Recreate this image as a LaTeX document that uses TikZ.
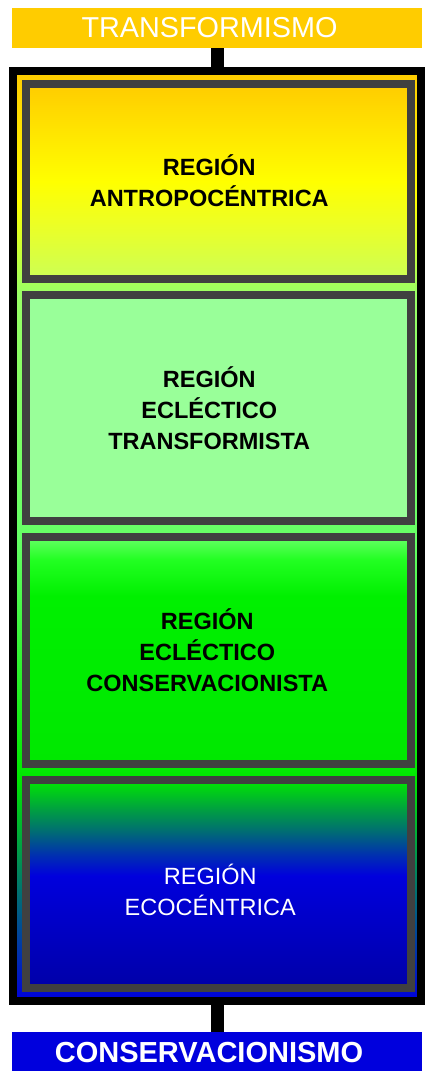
\documentclass[tikz,border=0pt]{standalone}
\usepackage{fontspec}
\setmainfont{Liberation Sans}
\usetikzlibrary{positioning,calc}
\definecolor{gAmbar}{HTML}{FFCC00}
\definecolor{gAmarillo}{HTML}{FFFF00}
\definecolor{gCitron}{HTML}{EEFF22}
\definecolor{gLima}{HTML}{CCFF55}
\definecolor{gPasto}{HTML}{99FF66}
\definecolor{gMenta}{HTML}{99FF99}
\definecolor{gClaro}{HTML}{66FF66}
\definecolor{gVivo}{HTML}{22FF22}
\definecolor{gVerde}{HTML}{00F000}
\definecolor{gHoja}{HTML}{00E800}
\definecolor{gBosque}{HTML}{00A040}
\definecolor{gPetroleo}{HTML}{007070}
\definecolor{gMar}{HTML}{0030B0}
\definecolor{gAzul}{HTML}{0000DD}
\definecolor{gNoche}{HTML}{0000A8}
\definecolor{gBorde}{HTML}{404040}
\pgfdeclareverticalshading{fondo}{100bp}{color(0bp)=(gAzul); color(25bp)=(gAzul); color(37bp)=(gHoja); color(50bp)=(gClaro); color(63bp)=(gPasto); color(68bp)=(gAmarillo); color(75bp)=(gAmbar); color(100bp)=(gAmbar)}
\pgfdeclareverticalshading{antropo}{100bp}{color(0bp)=(gLima); color(25bp)=(gLima); color(40bp)=(gCitron); color(50bp)=(gAmarillo); color(75bp)=(gAmbar); color(100bp)=(gAmbar)}
\pgfdeclareverticalshading{conserva}{100bp}{color(0bp)=(gHoja); color(25bp)=(gHoja); color(62bp)=(gVerde); color(70bp)=(gVivo); color(75bp)=(gClaro); color(100bp)=(gClaro)}
\pgfdeclareverticalshading{eco}{100bp}{color(0bp)=(gNoche); color(25bp)=(gNoche); color(52bp)=(gAzul); color(57bp)=(gMar); color(63bp)=(gPetroleo); color(68bp)=(gBosque); color(75bp)=(gHoja); color(100bp)=(gHoja)}

\begin{document}
\begin{tikzpicture}[x=1pt, y=1pt,
  region/.style={draw=gBorde, line width=8pt, minimum width=384.5pt, inner sep=0pt},
  rotulo/.style={minimum width=410pt, minimum height=40pt, inner sep=0pt},
  txt/.style={align=center, font=\fontsize{23.5}{31}\selectfont\bfseries},
  tallo/.style={line width=13pt, black}]
\useasboundingbox (0,0) rectangle (425,-1071);
\node[rotulo, fill=gAmbar] (trans) at (217,-28) {};
\node[font=\fontsize{28.8}{32}\selectfont, text=white] (ttrans) at ($(trans.center)+(-7.5,0)$) {TRANSFORMISMO};

\node[draw=black, line width=8pt, minimum width=408pt, minimum height=930pt, inner sep=0pt, shade, shading=fondo] (marco) at (217,-536) {};

\node[region, minimum height=195pt, shade, shading=antropo, anchor=north] (r1) at (218.25,-80) {};
\node[txt] (t1) at ($(r1.center)+(-9,1)$) {REGIÓN\\ANTROPOCÉNTRICA};

\node[region, below=8pt of r1, minimum height=226pt, fill=gMenta] (r2) {};
\node[txt] (t2) at ($(r2.center)+(-9,0)$) {REGIÓN\\ECLÉCTICO\\TRANSFORMISTA};

\node[region, below=8pt of r2, minimum height=227pt, shade, shading=conserva] (r3) {};
\node[txt] (t3) at ($(r3.center)+(-11,0)$) {REGIÓN\\ECLÉCTICO\\CONSERVACIONISTA};

\node[region, below=8pt of r3, minimum height=208pt, shade, shading=eco] (r4) {};
\node[txt, font=\fontsize{23.5}{31}\selectfont, text=white] (t4) at ($(r4.center)+(-8,-6)$) {REGIÓN\\ECOCÉNTRICA};

\node[rotulo, fill=gAzul] (cons) at (217,-1052) {};
\node[font=\fontsize{29}{32}\selectfont\bfseries, text=white] (tcons) at ($(cons.center)+(-8,-1)$) {CONSERVACIONISMO};

\draw[tallo] (trans) -- (marco);
\draw[tallo] (marco) -- (cons);
\end{tikzpicture}
\end{document}
